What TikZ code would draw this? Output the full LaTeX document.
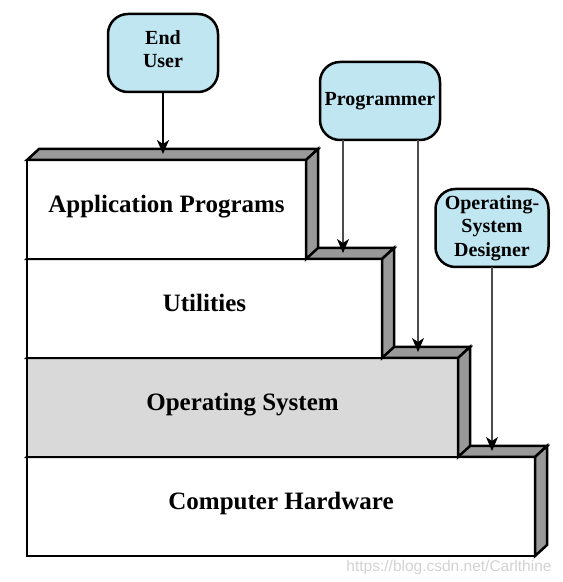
\documentclass[tikz,border=0pt]{standalone}
\usepackage{fontspec}
\setmainfont{Liberation Serif}
\newfontfamily\wmfont{Liberation Sans}
\usetikzlibrary{arrows.meta}
\usetikzlibrary{calc,positioning}
\definecolor{bulle}{RGB}{192,230,242}
\definecolor{flanc}{RGB}{153,153,153}
\definecolor{noyau}{RGB}{217,217,217}
% dessus et flanc d'une couche
\newcommand{\relief}[1]{%
	\draw[face] (#1.north west) -- ++(12,11) -- ($(#1.north east)+(12,11)$) -- (#1.north east) -- cycle;
	\draw[face] (#1.north east) -- ++(12,11) -- ($(#1.south east)+(12,11)$) -- (#1.south east) -- cycle;
	\coordinate (#1-t) at ($(#1.north)+(0,6)$);}

\begin{document}
\begin{tikzpicture}[x=1pt,y=1pt,
	couche/.style={draw,line width=2.5pt,fill=white,minimum height=99,anchor=south west,inner sep=0pt,outer sep=0pt,
		font=\fontsize{25}{28}\selectfont\bfseries,text height=18pt,text depth=11pt},
	face/.style={draw,line width=2.5pt,fill=flanc},
	acteur/.style={draw,line width=2.5pt,fill=bulle,rounded corners=20pt,minimum height=78,align=center,outer sep=0pt,
		font=\fontsize{20}{23.5}\selectfont\bfseries},
	fleche/.style={-{Stealth[length=14pt,width=12pt,inset=4pt,color=black]},line width=1.3pt,gray!60!black}]
				\useasboundingbox (0,0) rectangle (563,582);
				% Couches
				\node[couche,minimum width=508] (hw) at (27,26) {Computer Hardware};
				\relief{hw}
				\node[couche,minimum width=431,fill=noyau] (os) at (hw.north west) {Operating System};
				\relief{os}
				\node[couche,minimum width=355] (util) at (os.north west) {Utilities};
				\relief{util}
				\node[couche,minimum width=279] (apps) at (util.north west) {Application Programs};
				\relief{apps}
				% Acteurs
				\node[acteur,minimum width=110,text depth=8pt] (user) at (163,529) {End\\User};
				\node[acteur,minimum width=120] (prog) at (380,481) {Programmer};
				\node[acteur,minimum width=113] (osd) at (492,354) {Operating-\\System\\Designer};
				% Flèches
				\draw[fleche,black,line width=2.2pt] (user.south) -- (user.south |- apps-t);
				\draw[fleche] ($(prog.south)+(-37,0)$) coordinate (p1) -- (p1 |- util-t);
				\draw[fleche] ($(prog.south)+(38,0)$) coordinate (p2) -- (p2 |- os-t);
				\draw[fleche] (osd.south) -- (osd.south |- hw-t);
				\node[font=\wmfont\fontsize{15.5}{17}\selectfont,text=gray!35] (wm) at (449,15) {https://blog.csdn.net/Carlthine};
\end{tikzpicture}
\end{document}
